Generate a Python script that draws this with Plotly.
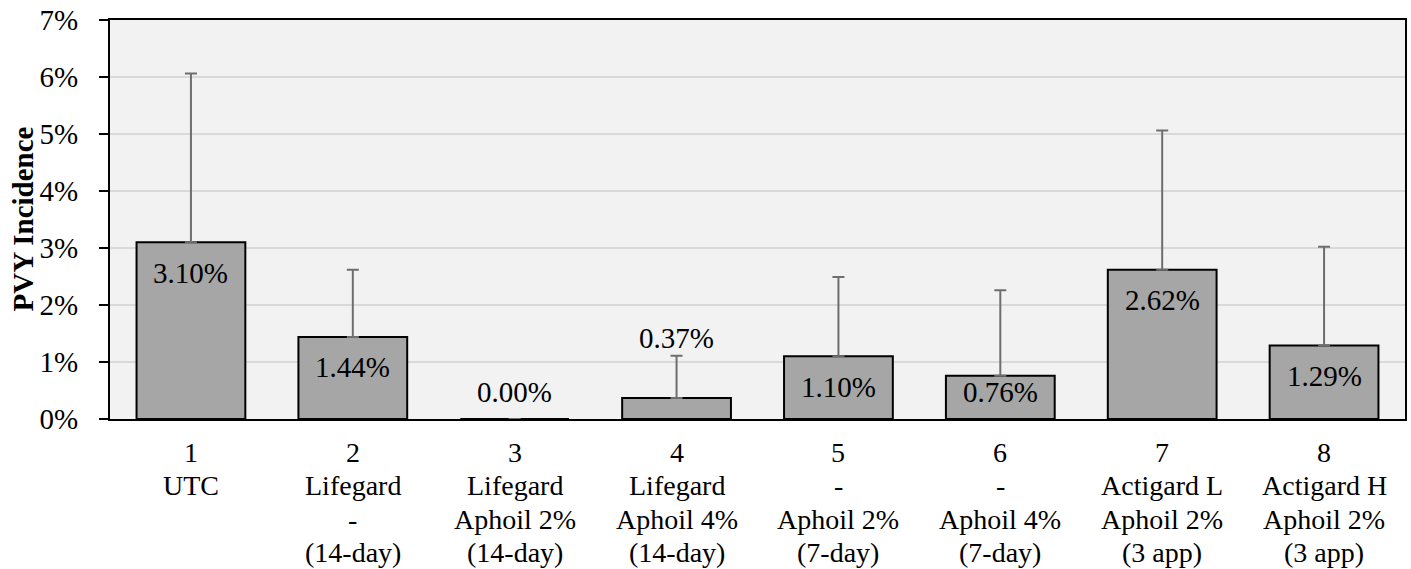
import plotly.graph_objects as go

# ---- data ----
treatments = [1, 2, 3, 4, 5, 6, 7, 8]
label_lines = [
    ["1", "UTC"],
    ["2", "Lifegard", "-", "(14-day)"],
    ["3", "Lifegard", "Aphoil 2%", "(14-day)"],
    ["4", "Lifegard", "Aphoil 4%", "(14-day)"],
    ["5", "-", "Aphoil 2%", "(7-day)"],
    ["6", "-", "Aphoil 4%", "(7-day)"],
    ["7", "Actigard L", "Aphoil 2%", "(3 app)"],
    ["8", "Actigard H", "Aphoil 2%", "(3 app)"],
]
incidence = [3.10, 1.44, 0.00, 0.37, 1.10, 0.76, 2.62, 1.29]   # percent
error_plus = [2.96, 1.18, 0.00, 0.74, 1.39, 1.50, 2.44, 1.73]  # percent
y_ticks = [0, 1, 2, 3, 4, 5, 6, 7]
y_tick_text = ["0%", "1%", "2%", "3%", "4%", "5%", "6%", "7%"]

FONT = "Liberation Serif, Times New Roman, Tinos, serif"
FS = 29

fig = go.Figure()
fig.add_trace(go.Bar(
    x=treatments,
    y=incidence,
    marker=dict(color="#A6A6A6", line=dict(color="#000000", width=2)),
    error_y=dict(type="data", symmetric=False, array=error_plus,
                 arrayminus=[0] * len(error_plus),
                 color="#6E6E6E", thickness=2, width=6),
    width=0.672,
    hoverinfo="skip",
))

annotations = []
# value labels
for x, v, e in zip(treatments, incidence, error_plus):
    if v < 0.5:
        yc = max(v + e + 0.31, 0.47)
    else:
        yc = max(v - 0.53, 0.47)
    annotations.append(dict(
        x=x, y=yc, xref="x", yref="y", text=f"{v:.2f}%",
        showarrow=False, xanchor="center", yanchor="middle",
        font=dict(family=FONT, size=FS, color="#000000"),
    ))

# category labels (one annotation per line)
LINE_H = 33.5
for x, lines in zip(treatments, label_lines):
    for i, t in enumerate(lines):
        annotations.append(dict(
            x=x, y=0, xref="x", yref="paper", text=t,
            showarrow=False, xanchor="center", yanchor="middle",
            yshift=-(33 + i * LINE_H), borderpad=0,
            font=dict(family=FONT, size=28, color="#000000"),
        ))

# y-axis title
annotations.append(dict(
    x=0, y=0.5, xref="paper", yref="paper", text="<b>PVY Incidence</b>",
    textangle=-90, showarrow=False, xanchor="center", yanchor="middle",
    xshift=-88, font=dict(family=FONT, size=FS, color="#000000"),
))

fig.update_layout(
    width=1411, height=569,
    margin=dict(l=110, r=6, t=20, b=150, autoexpand=False),
    paper_bgcolor="#FFFFFF",
    plot_bgcolor="#F2F2F2",
    showlegend=False,
    annotations=annotations,
    font=dict(family=FONT, size=FS, color="#000000"),
    xaxis=dict(
        range=[0.5, 8.5], tickvals=treatments, showticklabels=False,
        showgrid=False, zeroline=False, showline=True, linecolor="#000000",
        linewidth=2, mirror=True, ticks="",
    ),
    yaxis=dict(
        range=[0, 7], tickmode="array", tickvals=y_ticks, ticktext=y_tick_text,
        showgrid=True, gridcolor="#D9D9D9", gridwidth=1.5,
        zeroline=False, showline=True, linecolor="#000000", linewidth=2,
        mirror=True, ticks="outside", ticklen=9, tickwidth=2,
        tickcolor="#000000", ticklabelstandoff=15,
        tickfont=dict(family=FONT, size=FS, color="#000000"),
    ),
)

fig.write_html(
    "out.html",
    config={"displayModeBar": False},
    post_script="document.body.style.margin='0';document.body.style.overflow='hidden';",
)
